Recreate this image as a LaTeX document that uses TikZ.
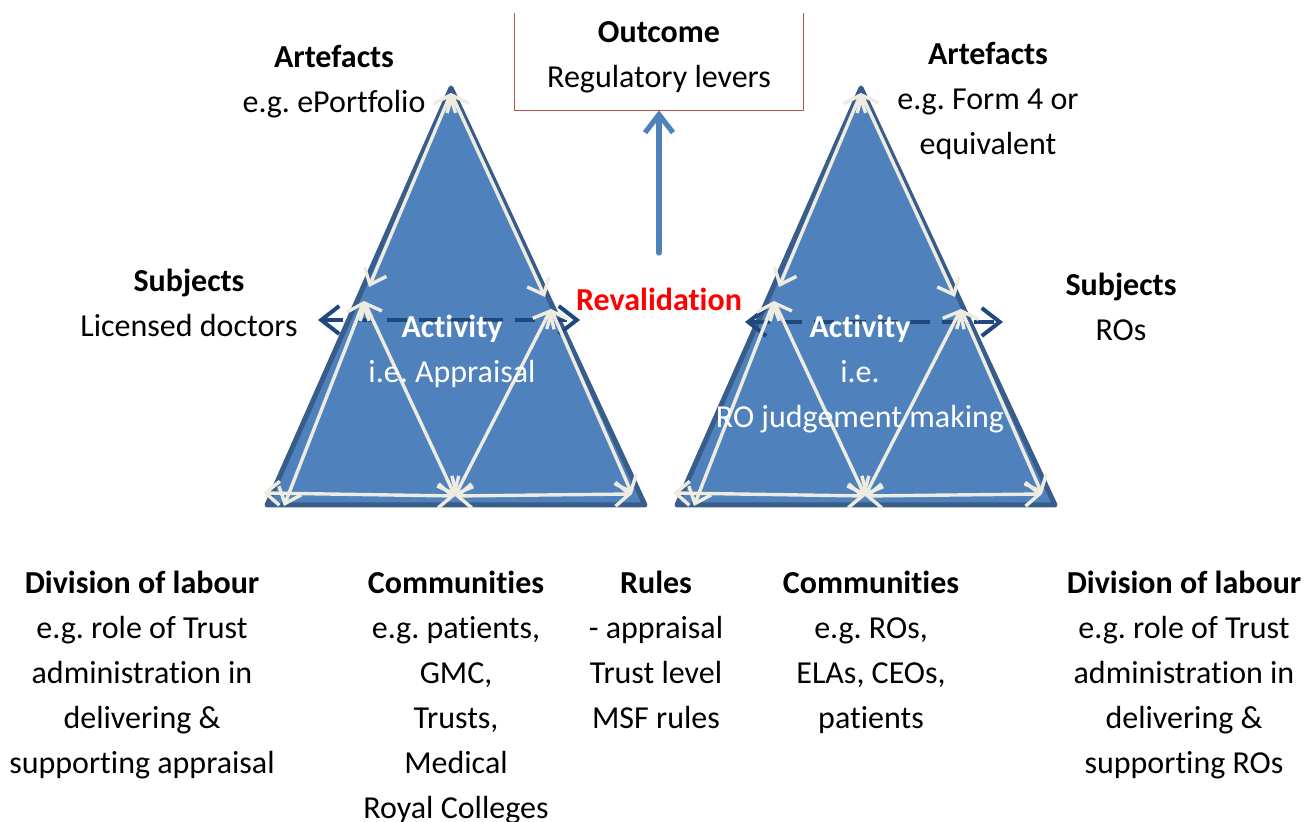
\documentclass[tikz,border=0pt]{standalone}
\usepackage{fontspec}
\setmainfont{Carlito}[Ligatures=NoCommon]
\frenchspacing
\usetikzlibrary{arrows.meta, positioning}
\definecolor{triblue}{HTML}{4F81BD}
\definecolor{triedge}{HTML}{385D8A}
\definecolor{linen}{HTML}{EEECE1}
\definecolor{navy}{HTML}{1F497D}
\definecolor{boxred}{HTML}{C0504D}
\begin{document}
\begin{tikzpicture}[x=0.5pt, y=-0.5pt,
        t/.style={align=center, anchor=base, inner sep=0pt, font=\fontsize{16}{22.5}\selectfont},
        tri/.style={fill=triblue, draw=triedge, line width=2.5pt, line join=round},
        w/.style={{Straight Barb[length=7pt,width=12pt]}-{Straight Barb[length=7pt,width=12pt]}, draw=linen, line width=1.7pt, line cap=round},
        d/.style={{Straight Barb[length=9pt,width=14pt]}-{Straight Barb[length=9pt,width=14pt]}, draw=navy, line width=2pt, dash pattern=on 10pt off 6pt},
        up/.style={-{Straight Barb[length=9pt,width=14pt]}, draw=triblue, line width=2.6pt, line cap=round}]
        \useasboundingbox (0,0) rectangle (1315,822);

        % the two triangles, with their corner points
        \foreach \s/\n/\p/\q/\y in {0/l/318/580/320, 410/r/745/1003/322} {
            \draw[tri] (\s+267,505) -- (\s+451,88) -- (\s+645,505) -- cycle;
            \coordinate (\n a) at (\s+451,93);
            \coordinate (\n s1) at (\s+369,287);
            \coordinate (\n s) at (\s+364,301);
            \coordinate (\n o1) at (\s+545,297);
            \coordinate (\n o) at (\s+551,309);
            \coordinate (\n b) at (\s+284,506);
            \coordinate (\n r) at (\s+263,493);
            \coordinate (\n c) at (\s+455,496);
            \coordinate (\n d) at (\s+632,494);
            \coordinate (\n dl) at (\p,\y);
            \coordinate (\n dr) at (\q,\y);
            \draw[d] (\n dl) -- (\n dr);
            \draw[w] (\n a) -- (\n s1);
            \draw[w] (\n a) -- (\n o1);
            \draw[w] (\n s) -- (\n b);
            \draw[w] (\n s) -- (\n c);
            \draw[w] (\n o) -- (\n c);
            \draw[w] (\n o) -- (\n d);
            \draw[w] (\n r) -- (\n c);
            \draw[w] (\n c) -- (\n d);
        }

        % outcome box, open at the top
        \node[minimum width=144pt, minimum height=48.5pt, inner sep=0pt] (outbox) at (659,61.5) {};
        \draw[boxred, line width=0.75pt] (outbox.north west) -- (outbox.south west) -- (outbox.south east) -- (outbox.north east);
        \node[t] (outcome) at (659,88) {\textbf{Outcome}\\Regulatory levers};
        \coordinate (revtail) at (659,253);
        \draw[up] (revtail) -- (outbox.south);

        % labels: anchor is the baseline of the last line
        \node[t] (artl) at (334,113) {\textbf{Artefacts}\\e.g. ePortfolio};
        \node[t] (artr) at (988,155) {\textbf{Artefacts}\\e.g. Form 4 or\\equivalent};
        \node[t] (subjl) at (189,337) {\textbf{Subjects}\\Licensed doctors};
        \node[t] (subjr) at (1121,341) {\textbf{Subjects}\\ROs};
        \node[t, text=red] (reval) at (659,311) {\textbf{Revalidation}};
        \node[t, text=white] (actl) at (452,383) {\textbf{Activity}\\i.e. Appraisal};
        \node[t, text=white] (actr) at (860,428) {\textbf{Activity}\\i.e.\\RO judgement making};

        \node[t] (divl) at (142,773) {\textbf{Division of labour}\\e.g. role of Trust\\administration in\\delivering \&\\supporting appraisal};
        \node[t] (coml) at (456,818) {\textbf{Communities}\\e.g. patients,\\GMC,\\Trusts,\\Medical\\Royal Colleges};
        \node[t] (rules) at (656,728) {\textbf{Rules}\\- appraisal\\Trust level\\MSF rules};
        \node[t] (comr) at (871,728) {\textbf{Communities}\\e.g. ROs,\\ELAs, CEOs,\\patients};
        \node[t] (divr) at (1184,773) {\textbf{Division of labour}\\e.g. role of Trust\\administration in\\delivering \&\\supporting ROs};
\end{tikzpicture}
\end{document}
